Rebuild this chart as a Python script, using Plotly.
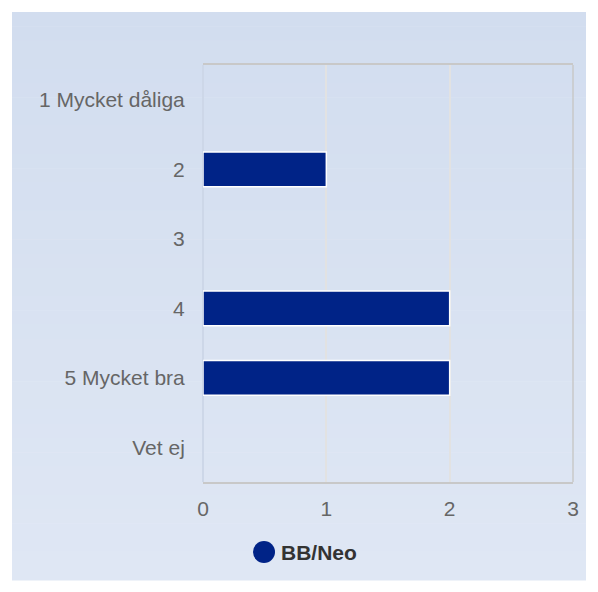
import plotly.graph_objects as go

categories = ["1 Mycket dåliga", "2", "3", "4", "5 Mycket bra", "Vet ej"]
values = [0, 1, 0, 2, 2, 0]
series_name = "BB/Neo"
x_ticks = [0, 1, 2, 3]

bar_color = "#002387"

# page body has an 8px margin; figure sized/positioned to compensate
W, H = 582, 576
L, R, T, B = 195, 17, 57, 102
pw, ph = W - L - R, H - T - B

def px_x(p):
    return (p - L) / pw

def px_y(p):
    return (H - B - p) / ph

fig = go.Figure()
fig.add_trace(go.Bar(
    y=categories, x=values, orientation="h", width=0.5,
    marker=dict(color=bar_color,
                line=dict(color="white", width=[1.5 if v > 0 else 0 for v in values])),
    showlegend=False, name=series_name,
))

shapes = []
# background panel with a soft vertical gradient
top_c = (210, 221, 239)
bot_c = (223, 231, 244)
y_top, y_bot = 4, 572
n = 40
for i in range(n):
    f = i / (n - 1)
    c = tuple(round(top_c[k] + (bot_c[k] - top_c[k]) * f) for k in range(3))
    ya = y_top + (y_bot - y_top) * i / n
    yb = y_top + (y_bot - y_top) * (i + 1) / n
    shapes.append(dict(type="rect", xref="paper", yref="paper",
                       x0=px_x(4), x1=px_x(578), y0=px_y(yb + 0.5), y1=px_y(ya),
                       fillcolor="rgb(%d,%d,%d)" % c, line=dict(width=0), layer="below"))
shapes.append(dict(type="line", xref="paper", yref="paper", x0=1, x1=1, y0=0, y1=1,
                   line=dict(color="#c8c8c8", width=1.5), layer="above"))
# legend marker
lx, ly = px_x(256), px_y(544)
shapes.append(dict(type="circle", xref="paper", yref="paper",
                   xsizemode="pixel", ysizemode="pixel", xanchor=lx, yanchor=ly,
                   x0=-11, x1=11, y0=-11, y1=11,
                   fillcolor=bar_color, line=dict(width=0)))

fig.update_layout(
    width=W, height=H,
    margin=dict(l=L, r=R, t=T, b=B),
    paper_bgcolor="white", plot_bgcolor="rgba(0,0,0,0)",
    font=dict(family="Liberation Sans, Arial, sans-serif", size=21, color="#666666"),
    xaxis=dict(range=[0, 3], tickvals=x_ticks, showgrid=True, gridcolor="#e2e2e2", gridwidth=1.5,
               showline=True, mirror=True, linecolor="#c8c8c8", linewidth=1.5,
               zeroline=True, zerolinecolor="#cdd7e8", zerolinewidth=1.5,
               ticks="outside", ticklen=7, tickcolor="rgba(0,0,0,0)", fixedrange=True),
    yaxis=dict(categoryorder="array", categoryarray=categories[::-1], showgrid=False,
               showline=False, ticks="outside", ticklen=13, tickcolor="rgba(0,0,0,0)"),
    showlegend=False,
    shapes=shapes,
    annotations=[dict(xref="paper", yref="paper", x=px_x(271), y=ly, xanchor="left", yanchor="middle",
                      text="<b>%s</b>" % series_name, showarrow=False,
                      font=dict(size=21, color="#333333", family="Liberation Sans, Arial, sans-serif"))],
)

fig.write_html("out.html")
